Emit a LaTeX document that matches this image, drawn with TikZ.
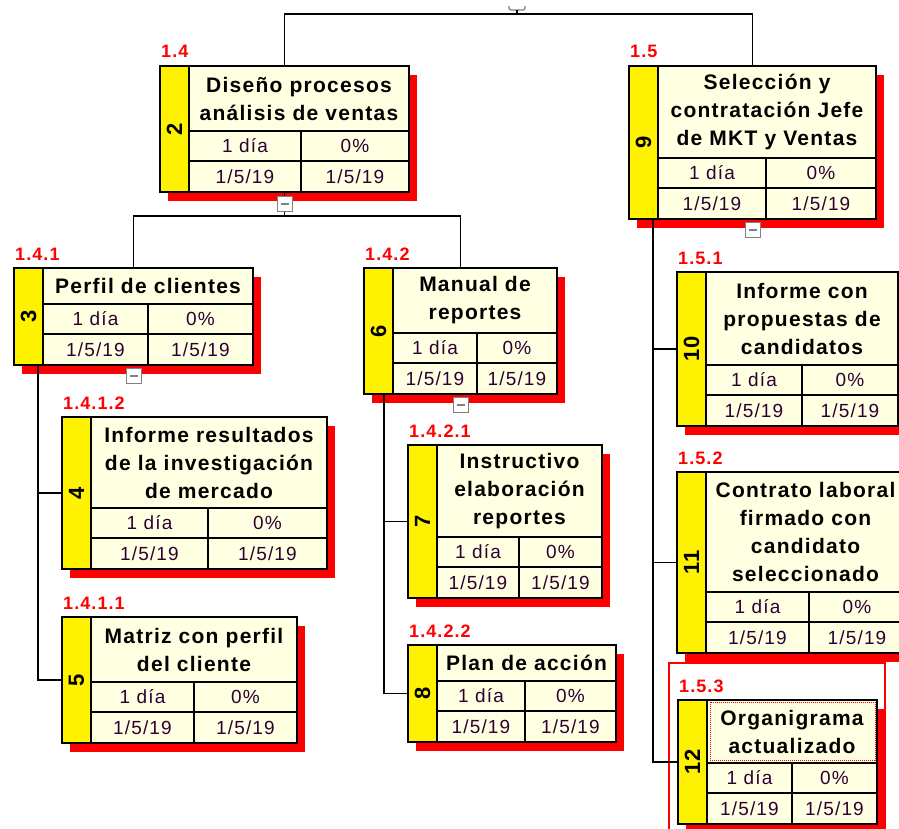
\documentclass[tikz,border=0pt]{standalone}
\usepackage{fontspec}
\setmainfont{Liberation Sans}[LetterSpace=6]
\usepackage{tikz}
\usepackage{xcolor}
\usetikzlibrary{fit}

\definecolor{wbscream}{RGB}{255,255,225}
\definecolor{wbsdark}{RGB}{45,0,50}

\tikzset{
  wbsline/.style={line width=1.9pt},
  link/.style={line width=1.8pt},
  wbstitle/.style={font=\fontsize{21}{28}\selectfont\bfseries, align=center, inner sep=0pt},
  wbsdata/.style={font=\fontsize{19}{22}\selectfont, text=wbsdark, inner sep=0pt},
  wbscode/.style={font=\fontsize{18}{20}\selectfont\bfseries, text=red, anchor=base west, inner sep=0pt},
  wbsid/.style={font=\fontsize{22}{24}\selectfont\bfseries, rotate=90, inner sep=0pt},
  collapse/.style={draw=gray, fill=white, line width=1pt, minimum size=15pt, inner sep=0pt,
    path picture={\draw[line width=1.6pt] ([xshift=-4pt]path picture bounding box.center) -- ([xshift=4pt]path picture bounding box.center);}},
}

% one box of the chart: name, left, top, right, title bottom, column split, id, code, title
\newcommand{\wbsbox}[9]{%
  \pgfmathsetmacro{\wbsbot}{#5+61}%
  \fill[red] (#2+8,#3+9) rectangle (#4+8,\wbsbot+9);
  \node[fill=wbscream, inner sep=0pt, fit={(#2,#3) (#4,\wbsbot)}] (#1) {};
  \fill[yellow] (#2,#3) rectangle (#2+29,\wbsbot);
  \draw[wbsline] (#2+29,#3) -- (#2+29,\wbsbot) (#2+29,#5) -- (#4,#5)
    (#2+29,#5+30) -- (#4,#5+30) (#6,#5) -- (#6,\wbsbot);
  \draw[wbsline] (#1.north west) rectangle (#1.south east);
  \node[wbsid] (#1-id) at (#2+14.5,{(#3+\wbsbot)/2}) {#7};
  \node[wbscode] (#1-code) at (#2+1,#3-8) {#8};
  \node[wbstitle] (#1-title) at ({(#2+29+#4)/2},{(#3+#5)/2}) {#9};
  \node[wbsdata] (#1-dur) at ({(#2+29+#6)/2},#5+15) {1 día};
  \node[wbsdata] (#1-pct) at ({(#6+#4)/2},#5+15) {0\%};
  \node[wbsdata] (#1-start) at ({(#2+29+#6)/2},#5+46) {1/5/19};
  \node[wbsdata] (#1-end) at ({(#6+#4)/2},#5+46) {1/5/19};
}

\begin{document}
\begin{tikzpicture}[x=1pt,y=-1pt]
\useasboundingbox (0,0) rectangle (899,829);
\clip (0,0) rectangle (899,829);

% level 2
\wbsbox{d2}{160}{66}{409}{131}{301}{2}{1.4}{Diseño procesos\\análisis de ventas}
\wbsbox{d9}{629}{66}{876}{158}{766}{9}{1.5}{Selección y\\contratación Jefe\\de MKT y Ventas}

% level 3
\wbsbox{d3}{14}{268}{253}{304}{148}{3}{1.4.1}{Perfil de clientes}
\wbsbox{d6}{364}{268}{557}{333}{477}{6}{1.4.2}{Manual de\\reportes}
\wbsbox{d10}{677}{272}{898}{365}{802}{10}{1.5.1}{Informe con\\propuestas de\\candidatos}
\wbsbox{d11}{677}{472}{905}{592}{809}{11}{1.5.2}{Contrato laboral\\firmado con\\candidato\\seleccionado}
\wbsbox{d12}{678}{700}{877}{763}{792}{12}{1.5.3}{Organigrama\\actualizado}

% level 4
\wbsbox{d4}{62}{417}{327}{508}{208}{4}{1.4.1.2}{Informe resultados\\de la investigación\\de mercado}
\wbsbox{d5}{62}{617}{297}{682}{194}{5}{1.4.1.1}{Matriz con perfil\\del cliente}
\wbsbox{d7}{408}{445}{602}{537}{519}{7}{1.4.2.1}{Instructivo\\elaboración\\reportes}
\wbsbox{d8}{408}{645}{616}{681}{525}{8}{1.4.2.2}{Plan de acción}

% selection of 1.5.3
\draw[red, line width=1.3pt] (669,663) rectangle (885,840);
\draw[red, densely dotted, line width=1pt] (710,702) rectangle (875,760);

% connectors
\draw[link] (d2.north) -- ++(0,-52) -| (d9.north);
\draw[link] (d2.south) -- ++(0,24) coordinate (j2);
\draw[link] (d3.north) |- (j2) -| (d6.north);

\coordinate (s3) at ([xshift=24pt]d3.south west);
\draw[link] (s3) |- (d5.west);
\draw[link] (d4.west) -- (d4.west -| s3);

\coordinate (s6) at ([xshift=20pt]d6.south west);
\draw[link] (s6) |- (d8.west);
\draw[link] (d7.west) -- (d7.west -| s6);

\coordinate (s9) at ([xshift=24pt]d9.south west);
\draw[link] (s9) |- (d12.west);
\draw[link] (d10.west) -- (d10.west -| s9);
\draw[link] (d11.west) -- (d11.west -| s9);

% collapse markers
\draw[gray, line width=1.2pt, rounded corners=2pt] (509,6) -- (509,10) -- (525,10) -- (525,6);
\draw[link] (517,10) -- (517,14);
\node[collapse] (c2) at ([yshift=-12pt]d2.south) {};
\node[collapse] (c3) at ([yshift=-11pt]d3.south) {};
\node[collapse] (c6) at ([yshift=-11pt]d6.south) {};
\node[collapse] (c9) at ([yshift=-11pt]d9.south) {};
\end{tikzpicture}
\end{document}
